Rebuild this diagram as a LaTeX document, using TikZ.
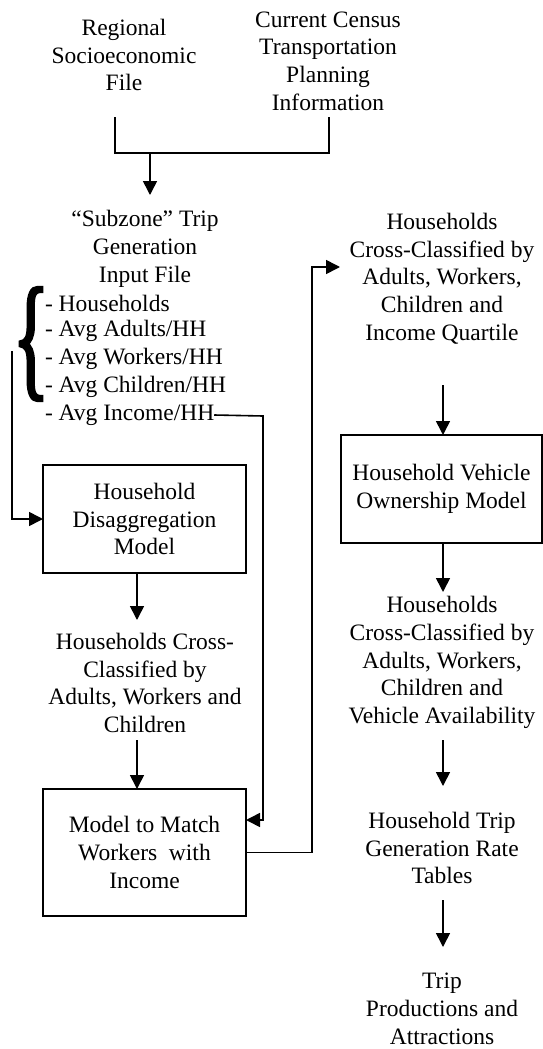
\documentclass[tikz,border=0pt]{standalone}
\usepackage{fontspec}
\setmainfont{Liberation Serif}
\newfontfamily\bracefont[FakeBold=3]{Liberation Serif}
\usetikzlibrary{arrows.meta}
\begin{document}
\begin{tikzpicture}[x=1pt,y=-1pt,
  every node/.style={inner sep=0pt,outer sep=0pt},
  txt/.style={align=center,font=\fontsize{23.5}{27.7}\selectfont},
  item/.style={anchor=west,font=\fontsize{23.5}{27.7}\selectfont},
  box/.style={txt,draw,line width=1.6pt,minimum width=203pt},
  conn/.style={line width=1.6pt},
  arr/.style={conn,-{Triangle[length=14pt,width=14pt]}}]
\useasboundingbox (0,0) rectangle (543,1049);
% top sources
\node[txt] (reg) at (124,55) {Regional\\Socioeconomic\\File};
\node[txt] (cen) at (328,61) {Current Census\\Transportation\\Planning\\Information};
\coordinate (j1) at (115,117);
\coordinate (j2) at (329,117);
\coordinate (ja) at (115,153);
\coordinate (jb) at (329,153);
\coordinate (jm) at (150,153);
\coordinate (jt) at (150,195);
\draw[conn] (j1) -- (ja) -- (jb) -- (j2);
\draw[arr] (jm) -- (jt);
% subzone file
\node[txt] (sub) at (145,249) {“Subzone” Trip\\Generation\\Input File};
\node[item] (i1) at (45,303) {- Households};
\node[item] (i2) at (45,331) {- Avg Adults/HH};
\node[item] (i3) at (45,359) {- Avg Workers/HH};
\node[item] (i4) at (45,387) {- Avg Children/HH};
\node[item] (i5) at (45,415) {- Avg Income/HH};
\node (br) at (31,344) {\resizebox{36pt}{94pt}{\bracefont\{}};
\coordinate (bt) at (12,351);
% disaggregation
\node[box,minimum height=108pt] (dis) at (144.5,519) {Household\\Disaggregation\\Model};
\draw[arr] (bt) |- (dis.west);
\coordinate (a2e) at (137,620);
\draw[arr] (dis.south -| a2e) -- (a2e);
\node[txt] (hh1) at (145,683) {Households Cross-\\Classified by\\Adults, Workers and\\Children};
\coordinate (a3s) at (137,740);
% match model
\node[box,minimum height=127pt] (mm) at (144.5,852.5) {Model to Match\\Workers\ \ with\\Income};
\draw[arr] (a3s) -- (a3s |- mm.north);
\coordinate (c1) at (263,416);
\coordinate (c2) at (263,820);
\draw[arr] (i5.east) -- (c1) -- (c2) -- (c2 -| mm.east);
\coordinate (o1) at (312,852.5);
\coordinate (tq) at (340,267);
\draw[arr] (mm.east) -- (o1) |- (tq);
% right column
\node[txt] (hq) at (442,278.5) {Households\\Cross-Classified by\\Adults, Workers,\\Children and\\Income Quartile};
\coordinate (a5s) at (443,385);
\node[box,minimum width=201pt,minimum height=108pt] (vo) at (441.5,489) {Household Vehicle\\Ownership Model};
\draw[arr] (a5s) -- (a5s |- vo.north);
\coordinate (a6e) at (443,592);
\draw[arr] (vo.south -| a6e) -- (a6e);
\node[txt] (hv) at (442,662.5) {Households\\Cross-Classified by\\Adults, Workers,\\Children and\\Vehicle Availability};
\coordinate (a7s) at (443,740);
\coordinate (a7e) at (443,786);
\draw[arr] (a7s) -- (a7e);
\node[txt] (ht) at (442,848) {Household Trip\\Generation Rate\\Tables};
\coordinate (a8s) at (443,900);
\coordinate (a8e) at (443,947);
\draw[arr] (a8s) -- (a8e);
\node[txt] (tp) at (442,1009) {Trip\\Productions and\\Attractions};
\end{tikzpicture}
\end{document}
